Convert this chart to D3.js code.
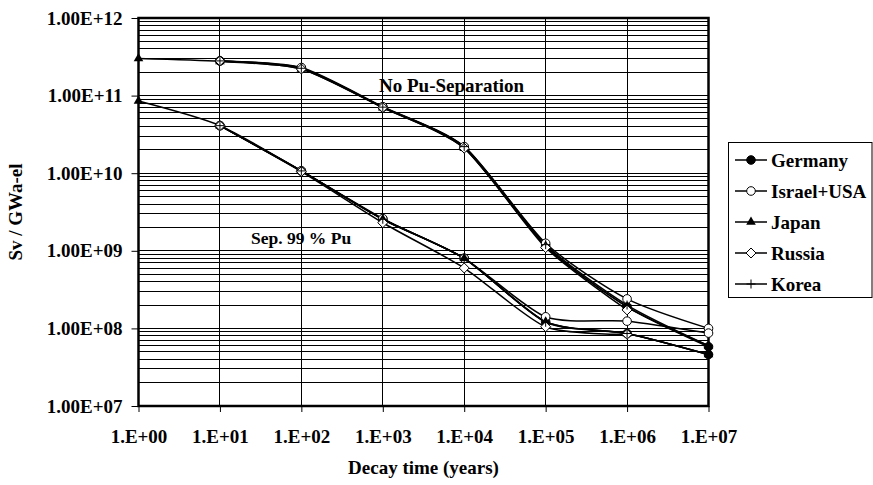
<!DOCTYPE html>
<html>
<head>
<meta charset="utf-8">
<script src="https://cdn.jsdelivr.net/npm/d3@7"></script>
<style>
  html, body { margin: 0; padding: 0; background: #fff; }
  svg { display: block; }
  text { font-family: "Liberation Serif", "Times New Roman", serif; font-weight: bold; fill: #000; }
</style>
</head>
<body>
<svg id="chart" width="873" height="485"></svg>
<script>
// Decay times (years) on the x axis
const years = [1, 10, 1e2, 1e3, 1e4, 1e5, 1e6, 1e7];
const xTickLabels = ["1.E+00", "1.E+01", "1.E+02", "1.E+03", "1.E+04", "1.E+05", "1.E+06", "1.E+07"];
const yTickValues = [1e7, 1e8, 1e9, 1e10, 1e11, 1e12];
const yTickLabels = ["1.00E+07", "1.00E+08", "1.00E+09", "1.00E+10", "1.00E+11", "1.00E+12"];

const countries = ["Germany", "Israel+USA", "Japan", "Russia", "Korea"];
const symbols = ["filledCircle", "openCircle", "triangle", "diamond", "plus"];

// Radiotoxicity (Sv / GWa-el), no plutonium separation
const noSepGermany = [null, 2.8e11, 2.25e11, 7.1e10, 2.15e10, 1.15e9, 1.9e8, 5.8e7];
const noSepIsraelUSA = [null, 2.8e11, 2.3e11, 7.2e10, 2.2e10, 1.25e9, 2.4e8, 1.0e8];
const noSepJapan = [3.0e11, 2.75e11, 2.2e11, 7.0e10, 2.1e10, 1.15e9, 1.9e8, 6.0e7];
const noSepRussia = [null, 2.8e11, 2.2e11, 7.0e10, 2.1e10, 1.1e9, 1.73e8, null];
const noSepKorea = [null, 2.8e11, 2.25e11, 7.1e10, 2.2e10, 1.2e9, 2.0e8, 6.0e7];

// Radiotoxicity (Sv / GWa-el), 99 % Pu separated
const sepGermany = [null, 4.1e10, 1.07e10, 2.55e9, 8.0e8, 1.22e8, 8.6e7, 4.6e7];
const sepIsraelUSA = [null, 4.1e10, 1.07e10, 2.6e9, 8.0e8, 1.41e8, 1.24e8, 8.7e7];
const sepJapan = [8.5e10, 4.1e10, 1.07e10, 2.55e9, 8.0e8, 1.22e8, 8.6e7, 4.6e7];
const sepRussia = [null, 4.1e10, 1.05e10, 2.3e9, 6.0e8, 1.05e8, 8.4e7, null];
const sepKorea = [null, 4.1e10, 1.07e10, 2.55e9, 8.0e8, 1.2e8, 8.6e7, 4.6e7];

const noSepSeries = [noSepGermany, noSepIsraelUSA, noSepJapan, noSepRussia, noSepKorea];
const sepSeries = [sepGermany, sepIsraelUSA, sepJapan, sepRussia, sepKorea];

const svg = d3.select("#chart");
const plot = { left: 138.5, right: 708.5, top: 18, bottom: 406 };

const x = d3.scaleLog().domain([1, 1e7]).range([plot.left, plot.right]);
const y = d3.scaleLog().domain([1e7, 1e12]).range([plot.bottom, plot.top]);

// Horizontal grid: every minor step of each decade
const gridY = [];
for (let e = 7; e < 12; e++) {
  for (let m = 1; m <= 9; m++) gridY.push(m * Math.pow(10, e));
}
gridY.push(1e12);

const grid = svg.append("g").attr("shape-rendering", "crispEdges");
grid.selectAll("line.h").data(gridY).join("line")
  .attr("class", "h")
  .attr("x1", plot.left).attr("x2", plot.right)
  .attr("y1", d => y(d)).attr("y2", d => y(d))
  .attr("stroke", "#000").attr("stroke-width", 1);
grid.selectAll("line.v").data(years).join("line")
  .attr("class", "v")
  .attr("x1", d => x(d)).attr("x2", d => x(d))
  .attr("y1", plot.top).attr("y2", plot.bottom)
  .attr("stroke", "#000").attr("stroke-width", 1);

// Axes
const xAxis = d3.axisBottom(x).tickValues(years)
  .tickFormat((d, i) => xTickLabels[i]).tickSize(6).tickPadding(18);
const yAxis = d3.axisLeft(y).tickValues(yTickValues)
  .tickFormat((d, i) => yTickLabels[i]).tickSize(7).tickPadding(9);

const gx = svg.append("g").attr("transform", `translate(0,${plot.bottom})`).call(xAxis);
const gy = svg.append("g").attr("transform", `translate(${plot.left},0)`).call(yAxis);
[gx, gy].forEach(g => {
  g.select(".domain").remove();
  g.selectAll(".tick line").attr("stroke", "#000").attr("stroke-width", 1);
  g.selectAll(".tick text").attr("font-size", "19px")
    .style("font-family", "'Liberation Serif', 'Times New Roman', serif")
    .style("font-weight", "bold").attr("fill", "#000");
});

// Plot frame
svg.append("rect")
  .attr("x", plot.left).attr("y", plot.top)
  .attr("width", plot.right - plot.left).attr("height", plot.bottom - plot.top)
  .attr("fill", "none").attr("stroke", "#000").attr("stroke-width", 2.5);

// Series lines (smoothed)
const line = d3.line()
  .defined(d => d.v != null)
  .curve(d3.curveCardinal.tension(0.3))
  .x(d => x(d.t)).y(d => y(d.v));

function points(values) {
  return values.map((v, i) => ({ t: years[i], v }));
}

const allSeries = [];
countries.forEach((c, i) => {
  allSeries.push({ country: c, symbol: symbols[i], pts: points(noSepSeries[i]) });
  allSeries.push({ country: c, symbol: symbols[i], pts: points(sepSeries[i]) });
});

const lines = svg.append("g");
allSeries.forEach(s => {
  lines.append("path")
    .attr("d", line(s.pts))
    .attr("fill", "none").attr("stroke", "#000").attr("stroke-width", 1.5);
});

function drawMarker(g, symbol, cx, cy) {
  if (symbol === "filledCircle") {
    g.append("circle").attr("cx", cx).attr("cy", cy).attr("r", 4.3)
      .attr("fill", "#000").attr("stroke", "#000").attr("stroke-width", 1);
  } else if (symbol === "openCircle") {
    g.append("circle").attr("cx", cx).attr("cy", cy).attr("r", 4.3)
      .attr("fill", "#fff").attr("stroke", "#000").attr("stroke-width", 1);
  } else if (symbol === "triangle") {
    g.append("path").attr("d", d3.symbol(d3.symbolTriangle, 40)())
      .attr("transform", `translate(${cx},${cy})`).attr("fill", "#000");
  } else if (symbol === "diamond") {
    g.append("path").attr("d", `M0,-5L5,0L0,5L-5,0Z`)
      .attr("transform", `translate(${cx},${cy})`)
      .attr("fill", "#fff").attr("stroke", "#000").attr("stroke-width", 1);
  } else if (symbol === "plus") {
    g.append("path").attr("d", `M-4.5,0H4.5M0,-4.5V4.5`)
      .attr("transform", `translate(${cx},${cy})`)
      .attr("fill", "none").attr("stroke", "#000").attr("stroke-width", 1);
  }
}

// Markers, drawn series by series
const markers = svg.append("g");
allSeries.forEach(s => {
  s.pts.filter(p => p.v != null).forEach(p => drawMarker(markers, s.symbol, x(p.t), y(p.v)));
});

// Annotations
svg.append("text").attr("x", 379).attr("y", 92).attr("font-size", "19px").text("No Pu-Separation");
svg.append("text").attr("x", 251).attr("y", 244).attr("font-size", "17.5px").text("Sep. 99 % Pu");

// Axis titles
svg.append("text").attr("x", (plot.left + plot.right) / 2).attr("y", 474)
  .attr("text-anchor", "middle").attr("font-size", "19px").text("Decay time (years)");
svg.append("text")
  .attr("transform", `translate(22,${(plot.top + plot.bottom) / 2}) rotate(-90)`)
  .attr("text-anchor", "middle").attr("font-size", "19px").text("Sv / GWa-el");

// Legend
const legend = svg.append("g");
legend.append("rect").attr("x", 728.5).attr("y", 142.5).attr("width", 143.5).attr("height", 155)
  .attr("fill", "#fff").attr("stroke", "#000").attr("stroke-width", 1);
countries.forEach((c, i) => {
  const ly = 160 + i * 31;
  legend.append("line").attr("x1", 735).attr("x2", 767).attr("y1", ly).attr("y2", ly)
    .attr("stroke", "#000").attr("stroke-width", 1.5);
  drawMarker(legend, symbols[i], 751, ly);
  legend.append("text").attr("x", 771).attr("y", ly + 6.5).attr("font-size", "19px").text(c);
});
</script>
</body>
</html>
